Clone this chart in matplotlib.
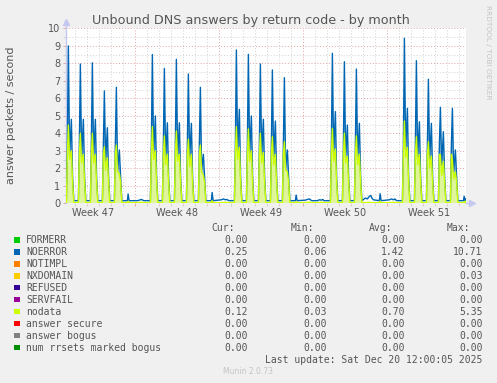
import matplotlib
matplotlib.use('Agg')
import matplotlib.pyplot as plt
from matplotlib.patches import Rectangle

W, H = 497, 383

# x axis in days since Sun 16 Nov 2025 00:00 ; graph ends Sat 20 Dec ~12:00
T_START, T_END = 1.22, 34.55
week_labels = ["Week 47", "Week 48", "Week 49", "Week 50", "Week 51"]
week_lines = [7, 14, 21, 28]

# working days with traffic (day index)
busy_days = [1, 2, 3, 4, 5, 8, 9, 10, 11, 12, 15, 16, 17, 18, 19,
             23, 24, 25, 29, 30, 31, 32, 33]
noerror_peak = [8.99, 7.96, 8.03, 6.42, 6.63, 8.50, 7.71, 8.23, 7.39, 6.63,
                8.76, 8.51, 7.96, 7.62, 7.18, 8.57, 8.09, 7.67,
                9.43, 8.15, 7.09, 5.49, 5.43]
noerror_dip = [2.7, 2.6, 2.6, 2.4, 1.9, 2.8, 2.5, 2.6, 2.5, 1.9,
               2.9, 2.8, 2.7, 2.5, 2.0, 2.8, 2.6, 2.5,
               3.0, 2.6, 2.5, 2.2, 1.8]
noerror_second = [4.80, 4.80, 4.80, 4.32, 3.05, 4.99, 4.60, 4.60, 4.57, 2.80,
                  5.37, 4.99, 4.80, 4.70, 3.05, 5.24, 4.47, 4.57,
                  5.43, 4.66, 4.57, 4.09, 3.05]
nodata_peak = [4.47, 4.00, 4.00, 3.24, 3.33, 4.38, 3.85, 4.13, 3.66, 3.33,
               4.38, 4.25, 4.00, 3.81, 3.52, 4.28, 4.00, 3.85,
               4.70, 3.81, 3.52, 2.76, 2.47]
nodata_dip = [2.5, 2.3, 2.3, 1.9, 1.8, 2.5, 2.2, 2.4, 2.1, 1.8,
              2.5, 2.4, 2.3, 2.2, 1.9, 2.4, 2.3, 2.2,
              2.6, 2.2, 2.0, 1.6, 1.4]
nodata_second = [3.0, 2.8, 2.8, 2.6, 1.7, 3.0, 2.8, 2.8, 2.8, 1.6,
                 3.2, 3.0, 2.9, 2.8, 1.8, 3.1, 2.7, 2.8,
                 3.2, 2.8, 2.7, 2.4, 1.8]
NOERROR_RISE, NOERROR_FALL = 3.4, 1.5
NODATA_RISE, NODATA_FALL = 2.8, 1.2
NOERROR_BASE, NODATA_BASE = 0.15, 0.04

# saturdays: one small blip in the morning
sat_days = [6, 13, 20, 27, 34]
sat_noerror = [0.53, 0.62, 0.47, 0.55, 0.40]
sat_nodata = [0.12, 0.15, 0.10, 0.12, 0.10]

# sundays / holidays / quiet friday
quiet_days = [7, 14, 21, 22, 26, 28]
quiet_noerror = [[0.15, 0.18, 0.22, 0.18, 0.15, 0.15],
                 [0.20, 0.25, 0.20, 0.22, 0.18, 0.15],
                 [0.18, 0.22, 0.25, 0.18, 0.15, 0.15],
                 [0.15, 0.20, 0.18, 0.22, 0.15, 0.15],
                 [0.30, 0.25, 0.40, 0.45, 0.30, 0.20],
                 [0.20, 0.25, 0.20, 0.25, 0.18, 0.15]]
quiet_nodata = [0.04, 0.05, 0.06, 0.05, 0.04, 0.04]
NOERROR_CUR, NODATA_CUR = 0.25, 0.12

legend_names = ["FORMERR", "NOERROR", "NOTIMPL", "NXDOMAIN", "REFUSED",
                "SERVFAIL", "nodata", "answer secure", "answer bogus",
                "num rrsets marked bogus"]
legend_colors = ["#00cc00", "#0066b3", "#ff8000", "#ffcc00", "#330099",
                 "#990099", "#ccff00", "#ff0000", "#808080", "#008f00"]
cur_vals = ["0.00", "0.25", "0.00", "0.00", "0.00", "0.00", "0.12", "0.00", "0.00", "0.00"]
min_vals = ["0.00", "0.06", "0.00", "0.00", "0.00", "0.00", "0.03", "0.00", "0.00", "0.00"]
avg_vals = ["0.00", "1.42", "0.00", "0.00", "0.00", "0.00", "0.70", "0.00", "0.00", "0.00"]
max_vals = ["0.00", "10.71", "0.00", "0.03", "0.00", "0.00", "5.35", "0.00", "0.00", "0.00"]

BUSY_HOURS = [6.0, 8.0, 10.0, 12.5, 16.0, 18.5, 21.0]
SAT_HOURS = [8.0, 9.5, 11.5]
QUIET_HOURS = [4, 8, 12, 15, 17, 20]

# ---- build the series -------------------------------------------------
t, noerr, nodata = [1.0], [NOERROR_BASE], [NODATA_BASE]


def add(day, hours, b, y):
    for h, bv, yv in zip(hours, b, y):
        t.append(day + h / 24.0)
        noerr.append(bv)
        nodata.append(yv)


for day in range(1, 35):
    if day in busy_days:
        i = busy_days.index(day)
        add(day, BUSY_HOURS,
            [NOERROR_BASE, NOERROR_RISE, noerror_peak[i], noerror_dip[i],
             noerror_second[i], NOERROR_FALL, NOERROR_BASE],
            [NODATA_BASE, NODATA_RISE, nodata_peak[i], nodata_dip[i],
             nodata_second[i], NODATA_FALL, NODATA_BASE])
    elif day in sat_days:
        i = sat_days.index(day)
        add(day, SAT_HOURS, [NOERROR_BASE, sat_noerror[i], NOERROR_BASE],
            [NODATA_BASE, sat_nodata[i], NODATA_BASE])
    elif day in quiet_days:
        i = quiet_days.index(day)
        add(day, QUIET_HOURS, quiet_noerror[i], quiet_nodata)
t.append(T_END)
noerr.append(NOERROR_CUR)
nodata.append(NODATA_CUR)

# ---- figure -------------------------------------------------------------
TXT = '#555555'
fig = plt.figure(figsize=(W / 100, H / 100), dpi=100, facecolor='#f0f0f0')
ax = fig.add_axes([66 / W, 1 - 203.3 / H, 400 / W, 175 / H])
ax.set_facecolor('white')

# zero series first, then the two visible ones
for name, color in zip(legend_names, legend_colors):
    if name not in ("NOERROR", "nodata"):
        ax.plot([T_START - 1, T_END + 1], [0, 0], color=color, lw=0.9, zorder=2)

ax.fill_between(t, nodata, noerr, where=[v > 0.6 for v in noerr], interpolate=True,
                color='#0066b3', alpha=0.33, lw=0, zorder=3)
ax.fill_between(t, 0, nodata, where=[v > 0.3 for v in nodata], interpolate=True,
                color='#def59a', lw=0, zorder=3)
ax.plot(t, noerr, color='#0066b3', lw=1.0, zorder=4)
ax.plot(t, nodata, color='#ccff00', lw=1.0, zorder=5)

ax.set_xlim(T_START, T_END)
ax.set_ylim(0, 10)
ax.set_xticks(week_lines)
ax.set_xticks(range(2, 35), minor=True)
ax.set_yticks(range(0, 11))
ax.set_yticks([k + 0.5 for k in range(10)], minor=True)
ax.set_xticklabels([])
ax.grid(which='major', color='#e3a3a3', ls=(0, (1, 2)), lw=0.7)
ax.grid(which='minor', color='#d2d2d2', ls=(0, (1, 2)), lw=0.7)
ax.set_axisbelow(True)
for s in ax.spines.values():
    s.set_visible(False)
ax.tick_params(axis='both', which='major', color='#e3a3a3', length=2, width=0.7,
               labelsize=7, labelcolor=TXT, pad=2)
ax.tick_params(axis='both', which='minor', color='#d2d2d2', length=2, width=0.7)

for k, lab in enumerate(week_labels):
    ax.text(3.5 + 7 * k, -10 / 175, lab, transform=ax.get_xaxis_transform(),
            ha='center', va='center', fontsize=7, color=TXT)

# axis lines with arrows
AX_C = '#c4c8f0'
ax.plot([0, 0], [0, 1.03], transform=ax.transAxes, color=AX_C, lw=1, clip_on=False, zorder=1)
ax.plot([0], [1.035], transform=ax.transAxes, marker='^', ms=4, color=AX_C, clip_on=False)
ax.plot([1.0, 1.012], [0, 0], transform=ax.transAxes, color=AX_C, lw=1, clip_on=False)
ax.plot([1.016], [0], transform=ax.transAxes, marker='>', ms=4, color=AX_C, clip_on=False)

fig.text(250.5 / W, 1 - 24.3 / H, "Unbound DNS answers by return code - by month",
         ha='center', va='baseline', fontsize=9.2, color=TXT)
fig.text(11 / W, 1 - 115 / H, "answer packets / second", rotation=90,
         ha='center', va='center', fontsize=8, color=TXT)
fig.text(488 / W, 1 - 52 / H, "RRDTOOL / TOBI OETIKER", rotation=270,
         ha='center', va='center', fontsize=5.3, color='#c4c4c4')

# ---- legend table -----------------------------------------------------
MONO = dict(family='DejaVu Sans Mono', fontsize=7, color=TXT)
for x, lab in zip([235, 314, 392, 470], ["Cur:", "Min:", "Avg:", "Max:"]):
    fig.text(x / W, 1 - 227.7 / H, lab, ha='right', va='center', **MONO)
for k, name in enumerate(legend_names):
    y = 240.0 + 11.97 * k
    fig.add_artist(Rectangle((14.3 / W, 1 - (y + 2.6) / H), 5.2 / W, 5.2 / H,
                             transform=fig.transFigure, color=legend_colors[k], lw=0))
    fig.text(26 / W, 1 - y / H, name, ha='left', va='center', **MONO)
    for x, vals in zip([248, 326.7, 404.7, 482.7], [cur_vals, min_vals, avg_vals, max_vals]):
        fig.text(x / W, 1 - y / H, vals[k], ha='right', va='center', **MONO)
fig.text(482.7 / W, 1 - 359.7 / H, "Last update: Sat Dec 20 12:00:05 2025",
         ha='right', va='center', **MONO)
fig.text(248 / W, 1 - 372 / H, "Munin 2.0.73", ha='center', va='center',
         fontsize=5.5, color='#c4c4c4')

fig.savefig("out.png", dpi=100, facecolor=fig.get_facecolor())
